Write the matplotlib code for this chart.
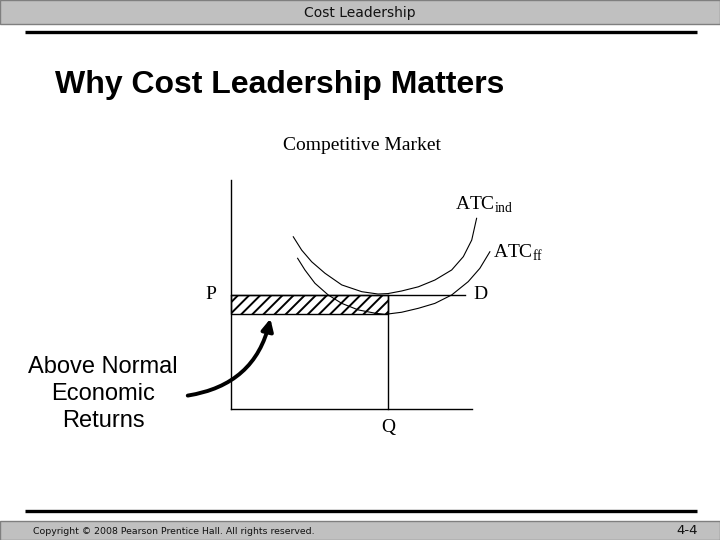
import matplotlib
matplotlib.use("Agg")
import matplotlib.pyplot as plt
from matplotlib.patches import Rectangle, FancyArrowPatch

plt.rcParams['mathtext.fontset'] = 'custom'
plt.rcParams['mathtext.rm'] = 'Liberation Serif'
plt.rcParams['hatch.linewidth'] = 1.4

# ---- data (graph units) ----
atc_ind_q = [2.30, 2.61, 2.98, 3.47, 4.09, 4.83, 5.43, 5.80, 6.30, 6.92, 7.53, 8.15, 8.58, 8.89, 9.07]
atc_ind_c = [7.37, 6.80, 6.30, 5.81, 5.31, 5.02, 4.92, 4.94, 5.05, 5.23, 5.52, 5.95, 6.52, 7.23, 8.16]
atc_ff_q = [2.46, 2.73, 3.10, 3.59, 4.09, 4.70, 5.32, 5.69, 6.30, 6.92, 7.53, 8.15, 8.76, 9.19, 9.56]
atc_ff_c = [6.45, 5.95, 5.38, 4.88, 4.52, 4.24, 4.10, 4.05, 4.14, 4.31, 4.52, 4.88, 5.45, 6.02, 6.73]
price_p = 4.88
cost_ff_min = 4.07
quantity_q = 5.80
demand_end = 8.64
q_axis_max = 8.9
p_axis_max = 9.8

title = "Why Cost Leadership Matters"
subtitle = "Competitive Market"
header = "Cost Leadership"
footer = "Copyright © 2008 Pearson Prentice Hall. All rights reserved."
page = "4-4"
callout = "Above Normal\nEconomic\nReturns"

fig = plt.figure(figsize=(7.2, 5.4), dpi=100)
ax = fig.add_axes([0, 0, 1, 1])
ax.set_xlim(0, 720)
ax.set_ylim(540, 0)
ax.axis('off')

# header / footer bars
ax.add_patch(Rectangle((0, 0), 720, 24, facecolor='#c0c0c0', edgecolor='#7f7f7f', lw=1))
ax.add_patch(Rectangle((0, 521), 720, 19, facecolor='#c0c0c0', edgecolor='#7f7f7f', lw=1))
ax.plot([25, 697], [31.5, 31.5], color='black', lw=2.4, solid_capstyle='butt')
ax.plot([25, 697], [511, 511], color='black', lw=2.4, solid_capstyle='butt')

ax.text(360, 12.5, header, ha='center', va='center', fontsize=10, family='DejaVu Sans', color='#111111')
ax.text(33, 531, footer, ha='left', va='center', fontsize=6.75, family='DejaVu Sans', color='#111111')
ax.text(698, 531, page, ha='right', va='center', fontsize=9.5, family='DejaVu Sans', color='#111111')

ax.text(55, 93, title, ha='left', va='baseline', fontsize=23, fontweight='bold', family='Liberation Sans')
ax.text(362, 150, subtitle, ha='center', va='baseline', fontsize=14, family='Liberation Serif')
ax.text(103, 394, callout, ha='center', va='center', multialignment='center', fontsize=17,
        family='Liberation Sans', linespacing=1.28)

# arrow
arr = FancyArrowPatch((185, 396), (271, 316), connectionstyle="arc3,rad=0.35",
                      arrowstyle="-|>,head_length=0.5,head_width=0.25", mutation_scale=14,
                      color='black', lw=2.8)
ax.add_patch(arr)

# economics graph
gx = fig.add_axes([231 / 720, (540 - 409) / 540, (472 - 231) / 720, (409 - 180) / 540])
gx.set_xlim(0, q_axis_max)
gx.set_ylim(0, p_axis_max)
gx.patch.set_alpha(0)
for s in ['top', 'right']:
    gx.spines[s].set_visible(False)
for s in ['left', 'bottom']:
    gx.spines[s].set_linewidth(1.0)
gx.set_xticks([])
gx.set_yticks([])

gx.add_patch(Rectangle((0, cost_ff_min), quantity_q, price_p - cost_ff_min, fill=False,
                       hatch='///', edgecolor='black', lw=1.0, clip_on=False))
gx.plot([0, demand_end], [price_p, price_p], color='black', lw=1.0, clip_on=False)
gx.plot([quantity_q, quantity_q], [0, price_p], color='black', lw=1.0, clip_on=False)
gx.plot(atc_ind_q, atc_ind_c, color='black', lw=0.8, clip_on=False)
gx.plot(atc_ff_q, atc_ff_c, color='black', lw=0.8, clip_on=False)

gx.text(-0.74, price_p, "P", ha='center', va='center', fontsize=14, family='Liberation Serif')
gx.text(9.23, price_p, "D", ha='center', va='center', fontsize=14, family='Liberation Serif')
gx.text(quantity_q, -0.81, "Q", ha='center', va='center', fontsize=14, family='Liberation Serif')
gx.text(8.27, 8.73, r"ATC$_{\mathrm{ind}}$", ha='left', va='center', fontsize=14, family='Liberation Serif')
gx.text(9.67, 6.68, r"ATC$_{\mathrm{ff}}$", ha='left', va='center', fontsize=14, family='Liberation Serif')

fig.savefig("out.png", dpi=100)
